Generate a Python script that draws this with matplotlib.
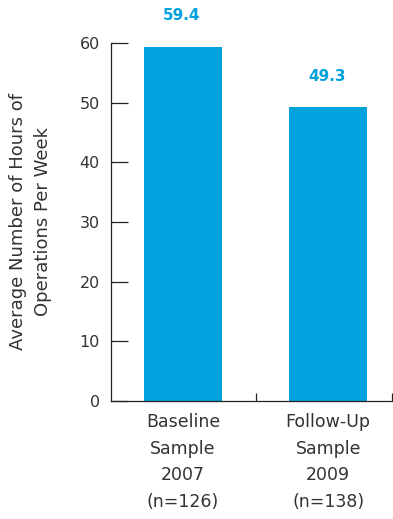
import numpy as np
import matplotlib.pyplot as plt

# Average weekly operating hours by sample
categories = ["Baseline\nSample\n2007\n(n=126)", "Follow-Up\nSample\n2009\n(n=138)"]
hours = [59.4, 49.3]
value_labels = ["59.4", "49.3"]

bar_color = "#00A2DD"
text_color = "#333333"

plt.rcParams['font.family'] = ['DejaVu Sans']

fig = plt.figure(figsize=(3.93, 5.19), dpi=100)
ax = fig.add_axes([0.2824, 0.2274, 0.715, 0.6898])

x = np.arange(len(categories))
ax.bar(x, hours, width=0.54, color=bar_color, zorder=2)

for xi, h, lab in zip(x, hours, value_labels):
    ax.annotate(lab, (xi, h), xytext=(-1, 22), textcoords="offset points",
                ha="center", va="center", fontsize=11, fontweight="bold",
                color=bar_color)

ax.set_xlim(-0.497, 1.44)
ax.set_ylim(0, 60)

for side in ["top", "right"]:
    ax.spines[side].set_visible(False)
for side in ["left", "bottom"]:
    ax.spines[side].set_linewidth(0.9)
    ax.spines[side].set_color("#222222")

ax.set_yticks([0, 10, 20, 30, 40, 50, 60])
ax.tick_params(axis="y", direction="in", length=12, width=0.9, pad=8,
               labelsize=11.5, labelcolor=text_color, color="#222222")

ax.set_xticks(x)
ax.set_xticklabels(categories, linespacing=1.6)
ax.tick_params(axis="x", which="major", length=0, pad=9, labelsize=12.5,
               labelcolor=text_color)
ax.set_xticks([0.5, 1.44], minor=True)
ax.tick_params(axis="x", which="minor", direction="in", length=6, width=0.9,
               color="#222222")

ax.set_ylabel("Average Number of Hours of\nOperations Per Week", fontsize=13,
              color=text_color, linespacing=1.5, labelpad=20)

fig.savefig("out.png", dpi=100)
